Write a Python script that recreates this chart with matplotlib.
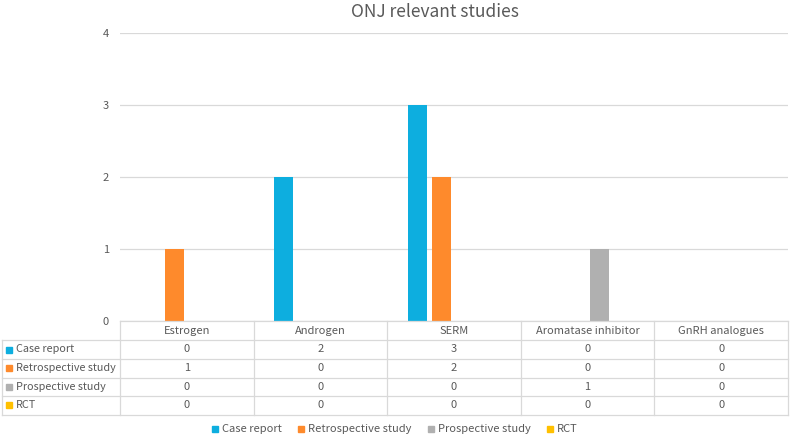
import matplotlib
matplotlib.use("Agg")
import matplotlib.pyplot as plt
import matplotlib.transforms as mtransforms
from matplotlib.patches import Rectangle
from matplotlib.lines import Line2D
import numpy as np

plt.rcParams['font.family'] = ['Noto Sans CJK KR', 'DejaVu Sans']

title = "ONJ relevant studies"
categories = ["Estrogen", "Androgen", "SERM", "Aromatase inhibitor", "GnRH analogues"]
series_names = ["Case report", "Retrospective study", "Prospective study", "RCT"]
case_report = [0, 2, 3, 0, 0]
retrospective = [1, 0, 2, 0, 0]
prospective = [0, 0, 0, 1, 0]
rct = [0, 0, 0, 0, 0]
y_ticks = [0, 1, 2, 3, 4]

series_values = [case_report, retrospective, prospective, rct]
colors = ["#0DAEDF", "#FE8A2C", "#B0B0B0", "#FFC000"]
text_col = "#595959"
line_col = "#D9D9D9"

W, H = 790, 438
fig = plt.figure(figsize=(W / 100, H / 100), dpi=100)

def fx(px):
    return px / W

def fy(py):
    return 1 - py / H

x0, x1, ytop, ybot = 120, 788, 33, 321
ax = fig.add_axes([fx(x0), fy(ybot), fx(x1 - x0), (ybot - ytop) / H])

n = len(categories)
xs = np.arange(n)
slot = 0.183
width = 0.142
for i, (vals, c) in enumerate(zip(series_values, colors)):
    off = (i - 1.5) * slot
    ax.bar(xs + off, vals, width=width, color=c, zorder=3)

ax.set_xlim(-0.5, n - 0.5)
ax.set_ylim(0, 4)
ax.set_yticks(y_ticks)
ax.set_yticklabels([str(t) for t in y_ticks])
ax.tick_params(axis='y', length=0, pad=8, labelsize=8, labelcolor=text_col)
ax.set_xticks([])
ax.grid(axis='y', color=line_col, linewidth=0.9, zorder=0)
for s in ax.spines.values():
    s.set_visible(False)

fig.text(fx(435), fy(12), title, ha='center', va='center', fontsize=12.5, color=text_col)

# Data table
trans = mtransforms.blended_transform_factory(ax.transData, fig.transFigure)
row_edges = [321, 340, 359, 377.5, 396, 414.5]
left_px = 2

# horizontal lines
fig.add_artist(Line2D([fx(x0), fx(x1)], [fy(row_edges[0])] * 2, color=line_col, lw=0.9))
for ry in row_edges[1:]:
    fig.add_artist(Line2D([fx(left_px), fx(x1)], [fy(ry)] * 2, color=line_col, lw=0.9))
# vertical lines
for b in np.arange(n + 1) - 0.5:
    fig.add_artist(Line2D([b, b], [fy(row_edges[0]), fy(row_edges[-1])], color=line_col,
                          lw=0.9, transform=trans))
fig.add_artist(Line2D([fx(left_px)] * 2, [fy(row_edges[1]), fy(row_edges[-1])], color=line_col, lw=0.9))

# header
hy = (row_edges[0] + row_edges[1]) / 2
for i, cat in enumerate(categories):
    fig.text(i, fy(hy), cat, transform=trans, ha='center', va='center', fontsize=8, color=text_col)

# rows
for r, (name, vals, c) in enumerate(zip(series_names, series_values, colors)):
    cy = (row_edges[r + 1] + row_edges[r + 2]) / 2
    fig.add_artist(Rectangle((fx(6), fy(cy + 3)), fx(6), 6 / H, color=c, transform=fig.transFigure))
    fig.text(fx(15.5), fy(cy), name, ha='left', va='center', fontsize=7.8, color=text_col)
    for i, v in enumerate(vals):
        fig.text(i, fy(cy), str(v), transform=trans, ha='center', va='center', fontsize=8, color=text_col)

# legend
leg_y = 429
leg_x = [212, 298, 428, 547]
for name, c, lx in zip(series_names, colors, leg_x):
    fig.add_artist(Rectangle((fx(lx), fy(leg_y + 3)), fx(6), 6 / H, color=c, transform=fig.transFigure))
    fig.text(fx(lx + 10), fy(leg_y), name, ha='left', va='center', fontsize=8, color=text_col)

fig.savefig("out.png", dpi=100)
